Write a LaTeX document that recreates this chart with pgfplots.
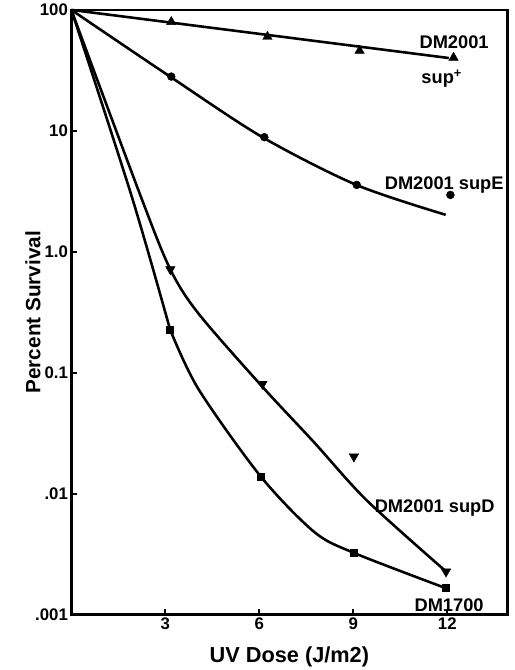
\documentclass[border=0pt]{standalone}
\usepackage{fontspec}
\setmainfont{Liberation Sans}
\usepackage{pgfplots}
\pgfplotsset{compat=1.18}

\begin{document}
\begin{tikzpicture}
\begin{axis}[
  at={(0,0)}, anchor=south west,
  scale only axis, width=440bp, height=610bp,
  xmin=0, xmax=13.92, ymode=log, ymin=0.001, ymax=100,
  xtick={3,6,9,12}, xticklabels={3,6,9,12},
  ytick={0.001,0.01,0.1,1,10,100},
  yticklabels={.001,.01,0.1,1.0,10,100},
  yminorticks=false, tick align=inside,
  xtick pos=left, ytick pos=left,
  major tick length=6bp,
  axis line style={line width=2.4bp},
  every tick/.style={black, line width=2bp},
  /pgf/number format/assume math mode=true,
  tick label style={font=\fontsize{17}{17}\selectfont\bfseries},
  xlabel={UV Dose (J/m2)}, ylabel={Percent Survival},
  label style={font=\fontsize{22}{22}\selectfont\bfseries},
  xlabel style={at={(axis description cs:0.5,-0.079)}, anchor=base},
  ylabel style={at={(axis description cs:-0.088,0.5)}, anchor=center,
    font=\fontsize{21}{21}\selectfont\bfseries},
  clip=false,
]
% fitted curves
\addplot[black, line width=2.6bp] coordinates {(0,100) (12.05,40)};
\addplot[black, line width=2.6bp, smooth] coordinates {
  (0,100) (3.15,28.1) (6.1,8.86) (9.1,3.57) (11.95,2.02)};
% DM2001 supD
\addplot[black, line width=2.6bp, smooth] coordinates {
  (0,100) (2.22,2.85) (3.16,0.714) (4.05,0.310) (6.04,0.0794) (7.75,0.0265)
  (9.42,0.00883) (11.9,0.00234)};
% DM1700
\addplot[black, line width=2.6bp, smooth] coordinates {(0,100) (1.93,2.85) (3.15,0.228)};
\addplot[black, line width=2.6bp, smooth] coordinates {
  (3.15,0.228) (4.05,0.0736) (6.04,0.0139) (7.75,0.00482)
  (9.02,0.00323) (11.9,0.00167)};
% data points
\addplot[only marks, mark=triangle*, mark size=5.5bp, black] coordinates {
  (3.19,79.6) (6.26,60) (9.2,46) (12.2,40.3)};
\addplot[only marks, mark=*, mark size=4bp, black] coordinates {
  (3.19,28.1) (6.16,8.86) (9.11,3.57) (12.1,2.95)};
\addplot[only marks, mark=triangle*, mark options={rotate=180}, mark size=5.5bp, black] coordinates {
  (3.16,0.714) (6.1,0.0806) (9.02,0.0202) (11.96,0.00226)};
\addplot[only marks, mark=square*, mark size=3.5bp, black] coordinates {
  (3.15,0.228) (6.04,0.0139) (9.02,0.00323) (11.96,0.00167)};
% curve labels
\begin{scope}[every node/.style={font=\fontsize{18.5}{18.5}\selectfont\bfseries, anchor=base west, inner sep=0pt}]
\node at (axis cs:11.11,47.8) {DM2001};
\node at (axis cs:11.17,24.7) {sup\textsuperscript{+}};
\node at (axis cs:10.0,3.25) {DM2001 supE};
\node at (axis cs:9.68,0.00703) {DM2001 supD};
\node at (axis cs:10.95,0.00106) {DM1700};
\end{scope}
\end{axis}
\path (-72bp,-50bp) rectangle (447bp,620bp);
\end{tikzpicture}
\end{document}
